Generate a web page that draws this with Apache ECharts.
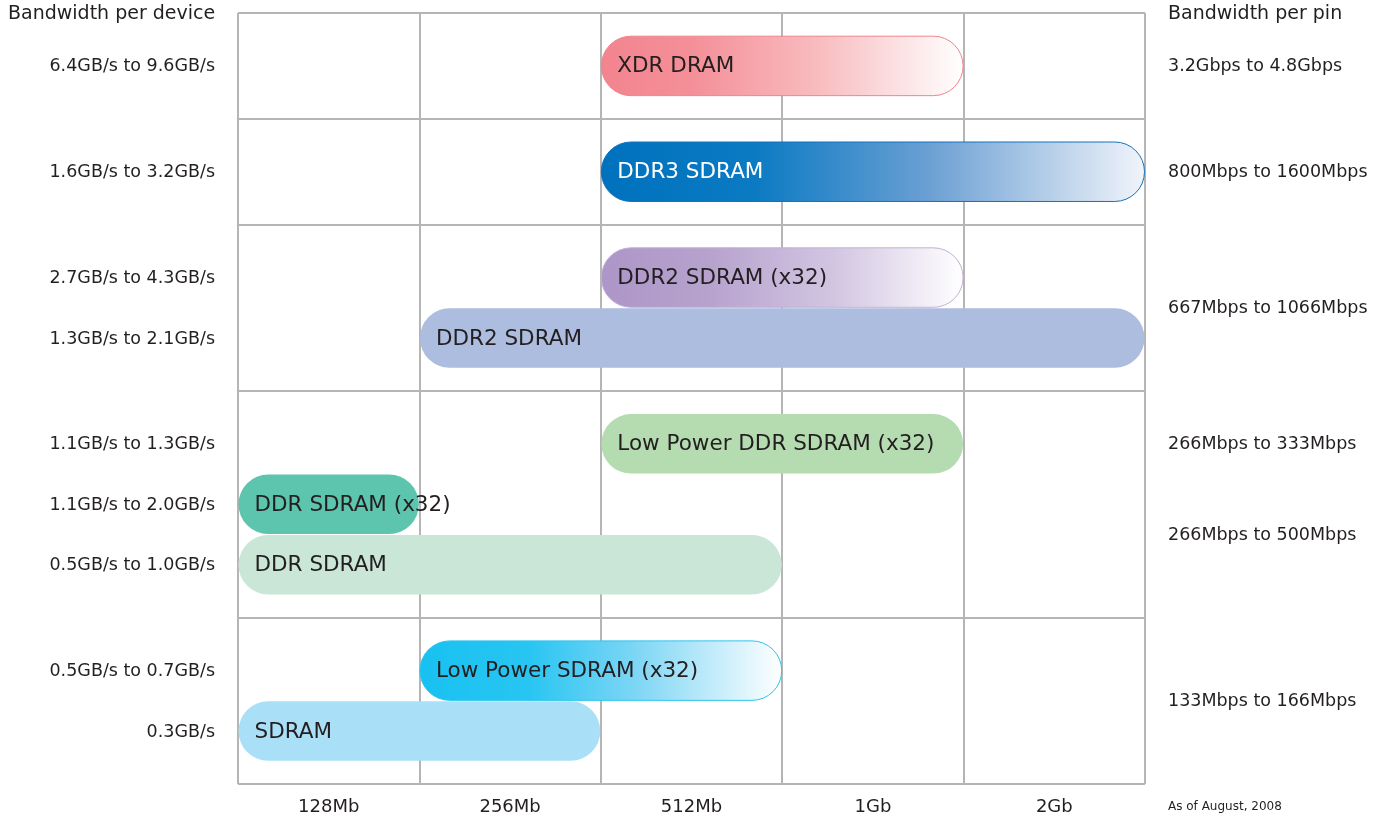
<!DOCTYPE html>
<html>
<head>
<meta charset="utf-8">
<script src="https://cdn.jsdelivr.net/npm/echarts@6/dist/echarts.min.js"></script>
<style>html,body{margin:0;padding:0;background:#fff}#c{width:1380px;height:819px}</style>
</head>
<body>
<div id="c"></div>
<script>
const densityCategories = ['128Mb', '256Mb', '512Mb', '1Gb', '2Gb'];
const memoryNames = ['XDR DRAM', 'DDR3 SDRAM', 'DDR2 SDRAM (x32)', 'DDR2 SDRAM', 'Low Power DDR SDRAM (x32)', 'DDR SDRAM (x32)', 'DDR SDRAM', 'Low Power SDRAM (x32)', 'SDRAM'];
const densityFrom = [2, 2, 2, 1, 2, 0, 0, 1, 0];
const densityTo = [4, 5, 4, 5, 4, 1, 3, 3, 2];
const deviceBandwidth = ['6.4GB/s to 9.6GB/s', '1.6GB/s to 3.2GB/s', '2.7GB/s to 4.3GB/s', '1.3GB/s to 2.1GB/s', '1.1GB/s to 1.3GB/s', '1.1GB/s to 2.0GB/s', '0.5GB/s to 1.0GB/s', '0.5GB/s to 0.7GB/s', '0.3GB/s'];
const groupSizes = [1, 1, 2, 3, 2];
const pinBandwidth = ['3.2Gbps to 4.8Gbps', '800Mbps to 1600Mbps', '667Mbps to 1066Mbps', '266Mbps to 333Mbps', '266Mbps to 500Mbps', '133Mbps to 166Mbps'];
const pinAnchor = [0, 1, 2.5, 4, 5.5, 7.5];

// styles per bar
const barStyles = [
  {stops: [[0, '#f2848f'], [0.25, '#f48f98'], [0.6, '#f8bcbf'], [1, '#ffffff']], stroke: '#f0848f', text: '#231f20'},
  {stops: [[0, '#0071bd'], [0.28, '#0a7ac3'], [0.6, '#6a9fd3'], [1, '#f1f4fa']], stroke: '#1273bf', text: '#ffffff'},
  {stops: [[0, '#ad96c8'], [0.3, '#b7a2cd'], [0.65, '#d3c6e2'], [1, '#ffffff']], stroke: '#c2b0d6', text: '#231f20'},
  {color: '#adbde0', text: '#231f20'},
  {color: '#b4dcb0', text: '#231f20'},
  {color: '#5dc4ad', text: '#231f20'},
  {color: '#cae6d7', text: '#231f20'},
  {stops: [[0, '#18c1f1'], [0.3, '#28c5f2'], [0.6, '#7fd6f5'], [1, '#ffffff']], stroke: '#2ec4ee', text: '#231f20'},
  {color: '#aadff8', text: '#231f20'}
];

const PAD = 0.75;
const barCenters = [];
const groupBounds = [0];
let acc = 0;
groupSizes.forEach(n => {
  for (let k = 0; k < n; k++) barCenters.push(acc + PAD / 2 + k + 0.5);
  acc += n + PAD;
  groupBounds.push(acc);
});
const totalRows = acc;

function anchorY(a) {
  const lo = Math.floor(a), hi = Math.ceil(a);
  return barCenters[lo] + (barCenters[hi] - barCenters[lo]) * (a - lo);
}

const barData = memoryNames.map((n, i) => [densityFrom[i], densityTo[i], barCenters[i], i]);
const pinData = pinBandwidth.map((t, i) => [5, anchorY(pinAnchor[i]), i]);

const FONT = '"DejaVu Sans", Verdana, sans-serif';

const chart = echarts.init(document.getElementById('c'));
chart.setOption({
  animation: false,
  backgroundColor: '#ffffff',
  grid: {left: 238, right: 235, top: 13, bottom: 35},
  title: [
    {text: 'Bandwidth per device', left: 8, top: 5, textStyle: {fontFamily: FONT, fontSize: 19, fontWeight: 'normal', color: '#231f20'}, padding: 0},
    {text: 'Bandwidth per pin', left: 1168, top: 5, textStyle: {fontFamily: FONT, fontSize: 19, fontWeight: 'normal', color: '#231f20'}, padding: 0}
  ],
  graphic: [{
    type: 'text', left: 1168, top: 801,
    style: {text: 'As of August, 2008', font: '12px ' + FONT, fill: '#231f20'}
  }],
  xAxis: [
    {type: 'value', min: 0, max: 5, interval: 1, axisLabel: {show: false}, axisTick: {show: false}, axisLine: {show: false},
     splitLine: {show: true, lineStyle: {color: '#b5b5b5', width: 2}}},
    {type: 'category', data: densityCategories, position: 'bottom', axisLine: {show: false}, axisTick: {show: false},
     axisLabel: {margin: 14, fontSize: 18, fontFamily: FONT, color: '#231f20'}, splitLine: {show: false}}
  ],
  yAxis: {type: 'value', min: 0, max: totalRows, inverse: true, axisLabel: {show: false}, axisTick: {show: false}, axisLine: {show: false}, splitLine: {show: false}},
  series: [
    {
      type: 'line', data: [], z: 1, silent: true,
      markLine: {symbol: 'none', silent: true, label: {show: false}, lineStyle: {color: '#b5b5b5', width: 2, type: 'solid'},
        data: groupBounds.map(b => ({yAxis: b}))}
    },
    {
      type: 'custom', z: 3, data: barData, silent: true,
      encode: {x: [0, 1], y: 2},
      renderItem: function (params, api) {
        const i = api.value(3);
        const p0 = api.coord([api.value(0), api.value(2)]);
        const p1 = api.coord([api.value(1), api.value(2)]);
        const h = api.size([0, 1])[1];
        const st = barStyles[i];
        let fill;
        if (st.stops) {
          fill = new echarts.graphic.LinearGradient(0, 0, 1, 0, st.stops.map(s => ({offset: s[0], color: s[1]})));
        } else {
          fill = st.color;
        }
        const x = p0[0] + 0.5, w = p1[0] - p0[0] - 1, y = p0[1] - h / 2;
        const cy = p0[1] + 1;
        return {
          type: 'group',
          children: [
            {type: 'rect', shape: {x: x, y: y + 0.5, width: w, height: h - 1, r: (h - 1) / 2},
             style: {fill: fill, stroke: st.stroke || null, lineWidth: st.stroke ? 1 : 0}},
            {type: 'text', x: x + 16, y: cy, z2: 5,
             style: {text: memoryNames[i], fill: st.text, font: '21.5px ' + FONT, verticalAlign: 'middle', align: 'left'}},
            {type: 'text', x: api.coord([0, 0])[0] - 23, y: cy,
             style: {text: deviceBandwidth[i], fill: '#231f20', font: '17.5px ' + FONT, verticalAlign: 'middle', align: 'right'}}
          ]
        };
      }
    },
    {
      type: 'custom', z: 3, data: pinData, silent: true,
      encode: {x: 0, y: 1},
      renderItem: function (params, api) {
        const p = api.coord([api.value(0), api.value(1)]);
        return {type: 'text', x: p[0] + 23, y: p[1] + 1,
          style: {text: pinBandwidth[api.value(2)], fill: '#231f20', font: '17.5px ' + FONT, verticalAlign: 'middle', align: 'left'}};
      }
    }
  ]
});
</script>
</body>
</html>
